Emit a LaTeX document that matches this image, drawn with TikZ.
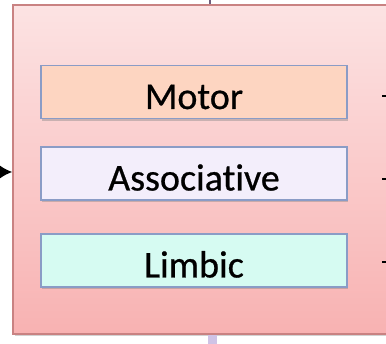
\documentclass[tikz,border=0pt]{standalone}
\usepackage{fontspec}
\setmainfont{Carlito}[Ligatures=NoCommon]
\usetikzlibrary{shadows,arrows.meta}
\definecolor{pinktop}{HTML}{FCE3E3}
\definecolor{pinkbot}{HTML}{F8B2B2}
\definecolor{outerline}{HTML}{C98282}
\definecolor{innerline}{HTML}{8A9CC6}
\definecolor{motorfill}{HTML}{FDD5C1}
\definecolor{assocfill}{HTML}{F3EEFB}
\definecolor{limbicfill}{HTML}{D6FBF2}
\definecolor{topline}{HTML}{6E5E7C}
\definecolor{botline}{HTML}{CFC3E6}
\begin{document}
\begin{tikzpicture}[x=1pt,y=-1pt,
  outerbox/.style={draw=outerline, line width=1.6pt, top color=pinktop, bottom color=pinkbot,
    minimum width=392pt, minimum height=329pt, inner sep=0pt,
    drop shadow={shadow xshift=1.5pt, shadow yshift=-2pt, opacity=0.35}},
  region/.style={draw=innerline, line width=1.6pt, minimum width=306pt, minimum height=53pt,
    inner sep=0pt, text height=36pt, text depth=2pt,
    font=\fontsize{38}{42}\selectfont\addfontfeature{FakeBold=0.6},
    drop shadow={shadow xshift=1pt, shadow yshift=-2.5pt, opacity=0.4}},
  conn/.style={line width=1.5pt, black}]
\useasboundingbox (0,0) rectangle (386,344);
\clip (0,0) rectangle (386,344);
\fill[white] (0,0) rectangle (386,344);
\node[outerbox] (outer) at (209,169.5) {};
\node[region, fill=motorfill] (motor) at (194,92) {Motor};
\node[region, fill=assocfill] (assoc) at (194,173.5) {Associative};
\node[region, fill=limbicfill] (limbic) at (194,260.5) {Limbic};
% incoming arrow on the left
\coordinate (in) at (-6,172);
\draw[conn, -{Latex[length=13pt,width=14pt]}] (in) -- (in -| outer.west);
% outgoing connectors on the right
\coordinate (m1) at (382,96);
\coordinate (m2) at (392,96);
\coordinate (a1) at (382,179);
\coordinate (a2) at (392,179);
\coordinate (l1) at (382,262);
\coordinate (l2) at (392,262);
\draw[conn] (m1) -- (m2);
\draw[conn] (a1) -- (a2);
\draw[conn] (l1) -- (l2);
% lines at top and bottom
\coordinate (t1) at (210,-2);
\draw[topline, line width=2pt] (t1) -- (t1 |- outer.north);
\coordinate (b1) at (212,346);
\draw[botline, line width=9pt] (b1) -- (b1 |- outer.south);
\end{tikzpicture}
\end{document}
